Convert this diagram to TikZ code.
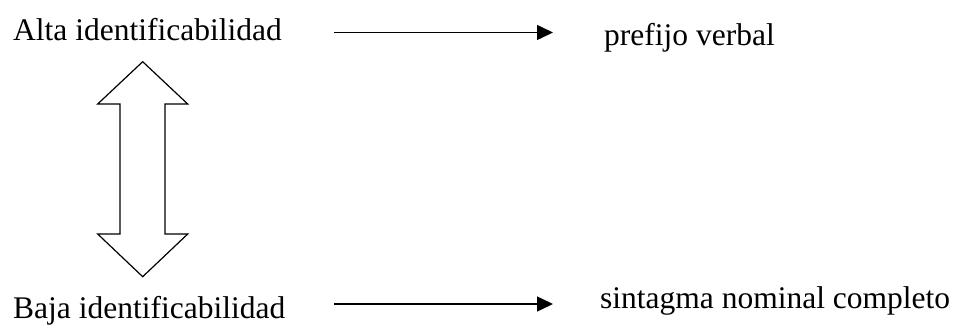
\documentclass[tikz,border=0pt]{standalone}
\usepackage{fontspec}
\setmainfont{Liberation Serif}
\usetikzlibrary{arrows.meta}
\begin{document}
\begin{tikzpicture}[x=1pt,y=-1pt,
  lbl/.style={anchor=base west,inner sep=0pt,font=\fontsize{31.5}{36}\selectfont},
  conn/.style={line width=1.5pt,-{Triangle[length=16pt,width=15pt]}},
  dbl/.style={line width=1.2pt,line join=miter}]
\useasboundingbox (0,0) rectangle (957,324);
\node[lbl] (alta) at (13,40) {Alta identificabilidad};
\node[lbl] (baja) at (13,318) {Baja identificabilidad};
\node[lbl] (pref) at (604,45) {prefijo verbal};
\node[lbl] (sint) at (600,308) {sintagma nominal completo};
\coordinate (a1) at (334,32.5);
\coordinate (a2) at (553,32.5);
\coordinate (b1) at (334,304);
\coordinate (b2) at (553,304);
\draw[conn] (a1) -- (a2);
\draw[conn] (b1) -- (b2);
\draw[dbl] (142.7,61.7) -- (187.7,104) -- (165,104) -- (165,234) -- (187.7,234)
  -- (142.7,276.7) -- (97.7,234) -- (120,234) -- (120,104) -- (97.7,104) -- cycle;
\end{tikzpicture}
\end{document}
